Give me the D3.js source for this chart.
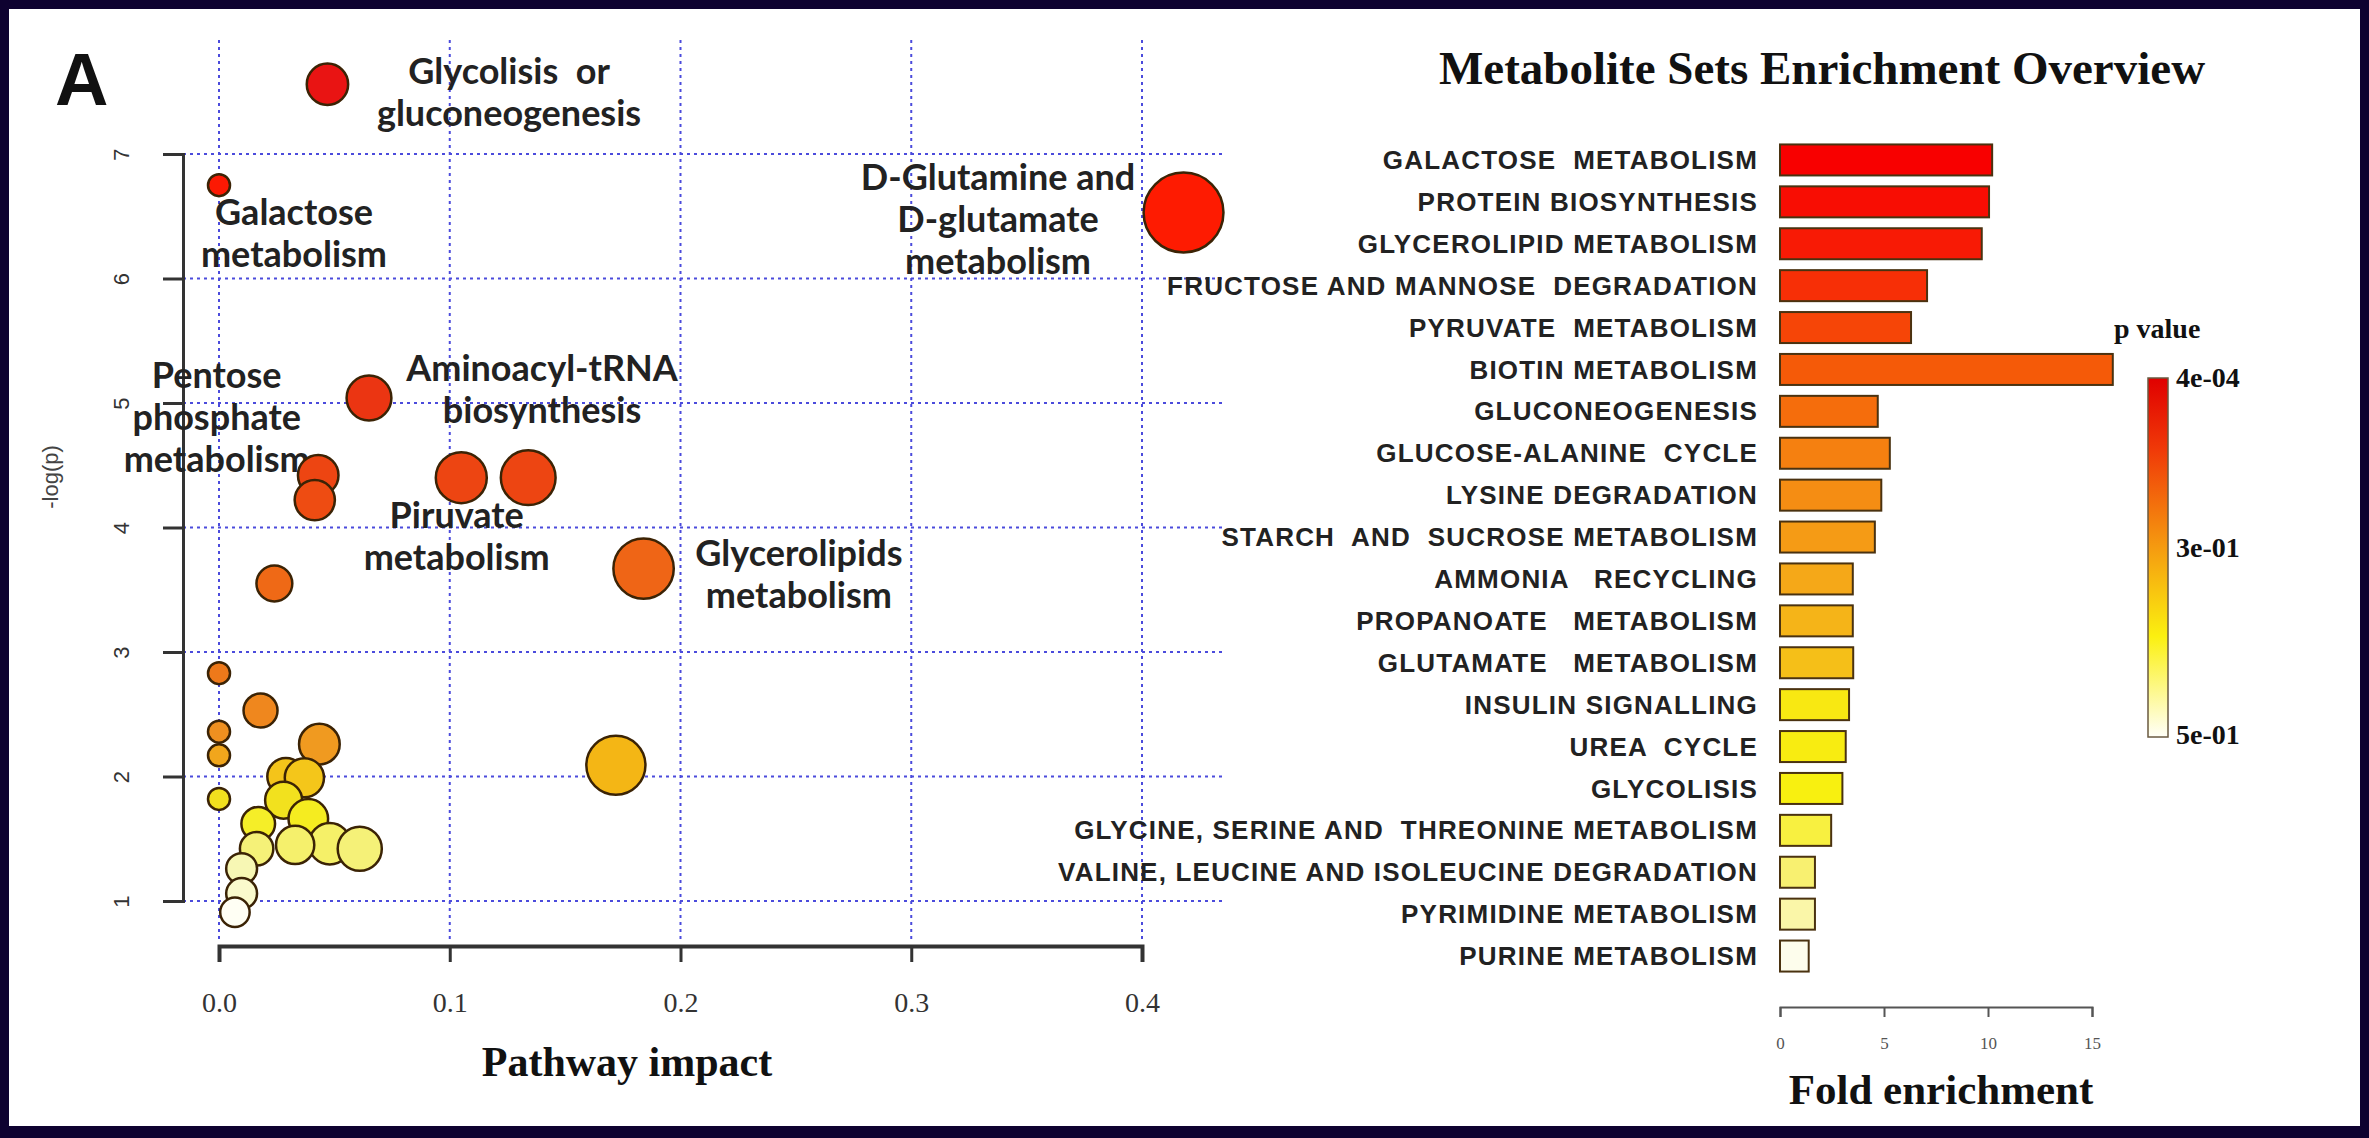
<!DOCTYPE html>
<html>
<head>
<meta charset="utf-8">
<title>Pathway analysis and metabolite set enrichment</title>
<script src="https://cdn.jsdelivr.net/npm/d3@7/dist/d3.min.js"></script>
<style>
  html, body { margin: 0; padding: 0; background: #0e0230; }
  svg { display: block; }
  text { white-space: pre; }
</style>
</head>
<body>
<svg id="fig" width="2369" height="1138"></svg>
<script>
// ---------- Pathway topology analysis (bubble plot) ----------
// pathway impact (x) and -log(p) (y), listed from most to least significant
const pathwayImpact = [0.047, 0.0, 0.418, 0.065, 0.043, 0.105, 0.134, 0.0415, 0.184, 0.024,
                       0.0, 0.018, 0.0, 0.0435, 0.0, 0.172, 0.029, 0.037, 0.0, 0.028,
                       0.0387, 0.017, 0.048, 0.033, 0.061, 0.0163, 0.0098, 0.0098, 0.0069];
const negLogP = [7.56, 6.75, 6.53, 5.04, 4.42, 4.40, 4.40, 4.22, 3.67, 3.55,
                 2.83, 2.53, 2.36, 2.26, 2.17, 2.09, 2.00, 1.99, 1.82, 1.81,
                 1.66, 1.62, 1.46, 1.45, 1.42, 1.42, 1.26, 1.06, 0.91];

// names written next to the main pathways
const pathwayLabels = [
  ["Glycolisis  or", "gluconeogenesis"],
  ["Galactose", "metabolism"],
  ["D-Glutamine and", "D-glutamate", "metabolism"],
  ["Aminoacyl-tRNA", "biosynthesis"],
  ["Pentose", "phosphate", "metabolism"],
  ["Piruvate", "metabolism"],
  ["Glycerolipids", "metabolism"]
];

const impactTicks = [0, 0.1, 0.2, 0.3, 0.4];
const logPTicks = [1, 2, 3, 4, 5, 6, 7];

// ---------- Metabolite set enrichment (bar chart) ----------
const metaboliteSets = [
  "GALACTOSE  METABOLISM",
  "PROTEIN BIOSYNTHESIS",
  "GLYCEROLIPID METABOLISM",
  "FRUCTOSE AND MANNOSE  DEGRADATION",
  "PYRUVATE  METABOLISM",
  "BIOTIN METABOLISM",
  "GLUCONEOGENESIS",
  "GLUCOSE-ALANINE  CYCLE",
  "LYSINE DEGRADATION",
  "STARCH  AND  SUCROSE METABOLISM",
  "AMMONIA   RECYCLING",
  "PROPANOATE   METABOLISM",
  "GLUTAMATE   METABOLISM",
  "INSULIN SIGNALLING",
  "UREA  CYCLE",
  "GLYCOLISIS",
  "GLYCINE, SERINE AND  THREONINE METABOLISM",
  "VALINE, LEUCINE AND ISOLEUCINE DEGRADATION",
  "PYRIMIDINE METABOLISM",
  "PURINE METABOLISM"
];
const foldEnrichment = [10.2, 10.05, 9.7, 7.07, 6.3, 16.0, 4.7, 5.28, 4.87, 4.56,
                        3.5, 3.5, 3.52, 3.32, 3.16, 3.0, 2.46, 1.68, 1.68, 1.38];
const foldTicks = [0, 5, 10, 15];
const pValueLabels = ["4e-04", "3e-01", "5e-01"];

// ================= drawing =================
const W = 2369, H = 1138;
const svg = d3.select("#fig");

// dark frame around a white page
svg.append("rect").attr("width", W).attr("height", H).attr("fill", "#0e0230");
svg.append("rect").attr("x", 9).attr("y", 9).attr("width", W - 18).attr("height", H - 21).attr("fill", "#ffffff");

const SANS = "'Liberation Sans', Arial, sans-serif";
const SERIF = "'Liberation Serif', 'Times New Roman', serif";
const LABEL = "Lato, 'Open Sans', sans-serif";

// panel letter
svg.append("text")
  .attr("x", 55).attr("y", 105)
  .attr("font-family", SANS).attr("font-weight", 700).attr("font-size", 74)
  .attr("fill", "#111").text("A");

// ---- bubble plot scales ----
const x = d3.scaleLinear().domain([0, 0.4]).range([219, 1142]);
const y = d3.scaleLinear().domain([1, 7]).range([901, 154]);
const r = d3.scalePow().exponent(0.5).domain([0, 0.42]).range([11, 40]);
const heat = d3.scaleLinear()
  .domain([0.91, 1.06, 1.26, 1.44, 1.64, 1.82, 2.0, 2.1, 2.2, 2.35, 2.8, 3.6, 4.3, 5.0, 6.6, 7.6])
  .range(["#fffff4", "#fafacc", "#f7f7b4", "#f5f070", "#f5ee20", "#f2e01e", "#f4c41a", "#f4b414",
          "#f0a020", "#ef9020", "#ee7a1a", "#ef6816", "#ee4812", "#ea3612", "#ff1a00", "#e81414"]);

// dotted blue reference grid
const grid = svg.append("g")
  .attr("stroke", "#4b4bdc").attr("stroke-width", 2).attr("stroke-dasharray", "3,4");
grid.selectAll("line.vgrid").data(impactTicks).join("line").attr("class", "vgrid")
  .attr("x1", d => x(d)).attr("x2", d => x(d)).attr("y1", 40).attr("y2", 942);
grid.selectAll("line.hgrid").data(logPTicks).join("line").attr("class", "hgrid")
  .attr("x1", 183).attr("x2", 1222).attr("y1", d => y(d)).attr("y2", d => y(d));

// x axis
const xAxis = svg.append("g").attr("transform", "translate(0,946)")
  .call(d3.axisBottom(x).tickValues(impactTicks).tickFormat(d3.format(".1f")).tickSize(16));
xAxis.select(".domain").attr("stroke", "#333").attr("stroke-width", 4);
xAxis.selectAll(".tick line").attr("stroke", "#333").attr("stroke-width", 3);
xAxis.selectAll(".tick text")
  .attr("font-family", SERIF).attr("font-size", 28).attr("fill", "#333")
  .attr("y", 66).attr("dy", 0);

// y axis
const yAxis = svg.append("g").attr("transform", "translate(183,0)")
  .call(d3.axisLeft(y).tickValues(logPTicks).tickFormat(d3.format("d")).tickSize(20));
yAxis.select(".domain").attr("stroke", "#333").attr("stroke-width", 3);
yAxis.selectAll(".tick line").attr("stroke", "#333").attr("stroke-width", 3);
yAxis.selectAll(".tick text")
  .attr("font-family", SANS).attr("font-size", 22).attr("fill", "#333")
  .attr("transform", "rotate(-90)").attr("text-anchor", "middle")
  .attr("x", 0).attr("y", -54).attr("dy", 0);

svg.append("text")
  .attr("transform", "translate(50,477) rotate(-90)")
  .attr("text-anchor", "middle").attr("dy", "0.35em")
  .attr("font-family", SANS).attr("font-size", 22).attr("fill", "#444")
  .text("-log(p)");

svg.append("text")
  .attr("x", 627).attr("y", 1076).attr("text-anchor", "middle")
  .attr("font-family", SERIF).attr("font-weight", 700).attr("font-size", 42).attr("fill", "#111")
  .text("Pathway impact");

// pathway names (anchored in data units)
const labelAnchor = [[0.1257, 7.66], [0.0325, 6.53], [0.3376, 6.815], [0.14, 5.28],
                     [-0.001, 5.22], [0.103, 4.10], [0.2513, 3.795]];
const lineGap = 42;
const labels = svg.append("g")
  .attr("font-family", LABEL).attr("font-weight", 700).attr("font-size", 36)
  .attr("fill", "#222").attr("text-anchor", "middle");
pathwayLabels.forEach((lines, i) => {
  const [ax, ay] = labelAnchor[i];
  labels.append("g").selectAll("text").data(lines).join("text")
    .attr("x", x(ax)).attr("y", (d, j) => y(ay) + j * lineGap).attr("dy", "0.35em")
    .text(d => d);
});

// bubbles
svg.append("g").selectAll("circle").data(d3.range(pathwayImpact.length)).join("circle")
  .attr("cx", i => x(pathwayImpact[i]))
  .attr("cy", i => y(negLogP[i]))
  .attr("r", i => r(pathwayImpact[i]))
  .attr("fill", i => heat(negLogP[i]))
  .attr("stroke", "#3b2305").attr("stroke-width", 2.5);

// ---- enrichment overview ----
svg.append("text")
  .attr("x", 1822).attr("y", 84).attr("text-anchor", "middle")
  .attr("font-family", SERIF).attr("font-weight", 700).attr("font-size", 47).attr("fill", "#111")
  .text("Metabolite Sets Enrichment Overview");

const yb = d3.scaleBand().domain(metaboliteSets).range([139, 977]).paddingInner(0.26).paddingOuter(0.13);
const xb = d3.scaleLinear().domain([0, 15]).range([1780, 2092]);
const barColor = d3.scaleLinear()
  .domain([0, 2, 5, 7, 10, 12, 13, 15, 17, 18, 19])
  .range(["#f80000", "#f81a05", "#f55a08", "#f58010", "#f5a818", "#f5bf18", "#f8e812",
          "#f8f010", "#f8f070", "#faf6a8", "#fdfdec"]);

svg.append("g").selectAll("rect").data(metaboliteSets).join("rect")
  .attr("x", xb(0))
  .attr("y", d => yb(d))
  .attr("width", (d, i) => xb(foldEnrichment[i]) - xb(0))
  .attr("height", yb.bandwidth())
  .attr("fill", (d, i) => barColor(i))
  .attr("stroke", "#4a3210").attr("stroke-width", 2);

svg.append("g").selectAll("text").data(metaboliteSets).join("text")
  .attr("x", 1758).attr("y", d => yb(d) + yb.bandwidth() / 2).attr("dy", "0.35em")
  .attr("text-anchor", "end")
  .attr("font-family", SANS).attr("font-weight", 700).attr("font-size", 26)
  .attr("letter-spacing", 1.2).attr("fill", "#222")
  .text(d => d);

const fAxis = svg.append("g").attr("transform", "translate(0,1007)")
  .call(d3.axisBottom(xb).tickValues(foldTicks).tickSize(10));
fAxis.select(".domain").attr("stroke", "#555").attr("stroke-width", 2);
fAxis.selectAll(".tick line").attr("stroke", "#555").attr("stroke-width", 2);
fAxis.selectAll(".tick text")
  .attr("font-family", SERIF).attr("font-size", 17).attr("fill", "#555")
  .attr("y", 42).attr("dy", 0);

svg.append("text")
  .attr("x", 1941).attr("y", 1104).attr("text-anchor", "middle")
  .attr("font-family", SERIF).attr("font-weight", 700).attr("font-size", 43).attr("fill", "#111")
  .text("Fold enrichment");

// p-value colour key
const defs = svg.append("defs");
const grad = defs.append("linearGradient").attr("id", "pkey")
  .attr("x1", 0).attr("y1", 0).attr("x2", 0).attr("y2", 1);
[[0, "#e00000"], [0.2, "#f03a08"], [0.47, "#f59a10"], [0.72, "#fbf010"], [1, "#fffff8"]]
  .forEach(([o, c]) => grad.append("stop").attr("offset", o).attr("stop-color", c));

const keyY = d3.scaleLinear().domain([0, 1]).range([378, 737]);
svg.append("rect")
  .attr("x", 2148).attr("y", keyY(0)).attr("width", 20).attr("height", keyY(1) - keyY(0))
  .attr("fill", "url(#pkey)").attr("stroke", "#6a5a40").attr("stroke-width", 1.5);
svg.append("text")
  .attr("x", 2114).attr("y", 338)
  .attr("font-family", SERIF).attr("font-weight", 700).attr("font-size", 28).attr("fill", "#111")
  .text("p value");
const keyPos = [0, 0.474, 0.995];
svg.append("g").selectAll("text").data(pValueLabels).join("text")
  .attr("x", 2176).attr("y", (d, i) => keyY(keyPos[i])).attr("dy", "0.33em")
  .attr("font-family", SERIF).attr("font-weight", 700).attr("font-size", 28).attr("fill", "#111")
  .text(d => d);
</script>
</body>
</html>
